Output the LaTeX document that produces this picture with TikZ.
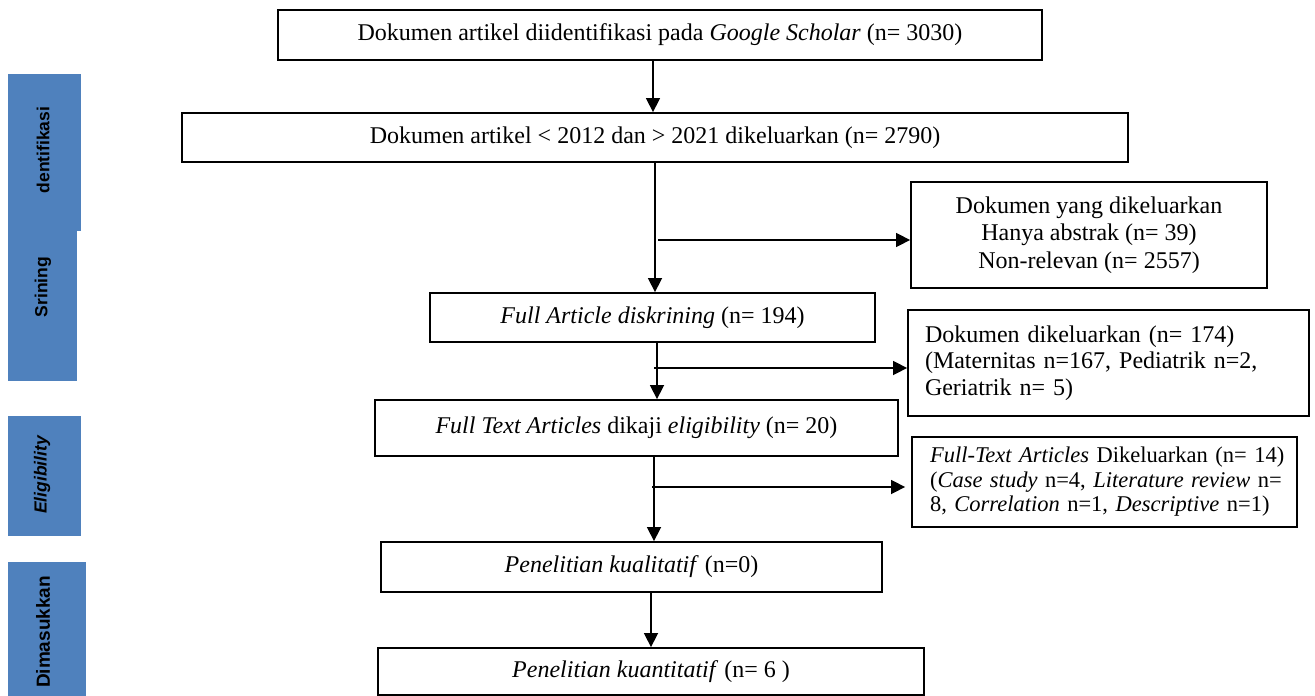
\documentclass[tikz,border=0pt]{standalone}
\usepackage{fontspec}
\setmainfont{Liberation Serif}
\newfontfamily\sidefont{Liberation Sans}
\usetikzlibrary{arrows.meta}
\definecolor{sideblue}{HTML}{4F81BD}
\tikzset{
  box/.style={draw=black, line width=1.8pt, rectangle, inner sep=0pt, align=center,
    font=\fontsize{24}{27}\selectfont},
  conn/.style={line width=1.5pt, -{Triangle[length=14pt,width=14pt]}},
  sidebar/.style={fill=sideblue, draw=none},
  sidelabel/.style={rotate=90, inner sep=0pt, text=black,
    font=\sidefont\bfseries\fontsize{17.5}{20}\selectfont}
}
\begin{document}
\begin{tikzpicture}[x=1pt,y=-1pt]
\useasboundingbox (0,0) rectangle (1315,696);

% side bars
\fill[sidebar] (8,74) rectangle (81,231);
\fill[sidebar] (8,231) rectangle (77,381);
\fill[sidebar] (8,416) rectangle (81,536);
\fill[sidebar] (8,562) rectangle (86,696);
\node[sidelabel] (l1) at (43,150) {dentifikasi};
\node[sidelabel] (l2) at (43,287) {Srining};
\node[sidelabel] (l3) at (42,475) {\itshape Eligibility};
\node[sidelabel, font=\sidefont\bfseries\fontsize{19}{22}\selectfont] (l4) at (43,632) {Dimasukkan};

% main boxes
\node[box, minimum width=764pt, minimum height=50pt] (b1) at (660,35)
  {Dokumen artikel diidentifikasi pada \textit{Google Scholar} (n= 3030)};
\node[box, minimum width=946pt, minimum height=49pt] (b2) at (655,137.5)
  {Dokumen artikel < 2012 dan > 2021 dikeluarkan (n= 2790)};
\node[box, minimum width=445pt, minimum height=49pt] (b3) at (652.5,317.5)
  {\textit{Full Article diskrining} (n= 194)};
\node[box, minimum width=523pt, minimum height=56pt] (b4) at (636.5,428)
  {\textit{Full Text Articles} dikaji \textit{eligibility} (n= 20)};
\node[box, minimum width=501pt, minimum height=50pt] (b5) at (631.5,567)
  {\textit{Penelitian kualitatif} (n=0)};
\node[box, minimum width=546pt, minimum height=47pt] (b6) at (651,671.5)
  {\raisebox{-3pt}{\textit{Penelitian kuantitatif} (n= 6 )}};

% right boxes
\node[box, minimum width=356pt, minimum height=106pt,
  font=\fontsize{24}{27.5}\selectfont] (r1) at (1089,235)
  {Dokumen yang dikeluarkan\\Hanya abstrak (n= 39)\\Non-relevan (n= 2557)};
\node[box, minimum width=401pt, minimum height=106pt, inner xsep=17pt,
  text width=367pt, align=left, font=\fontsize{24}{26.5}\selectfont] (r2) at (1108.5,363)
  {\mbox{Dokumen dikeluarkan (n= 174)}\\\mbox{(Maternitas n=167, Pediatrik n=2,}\\\mbox{Geriatrik n= 5)}};
\node[box, minimum width=385pt, minimum height=90pt, inner xsep=18pt,
  text width=349pt, align=left, font=\fontsize{22.5}{24.5}\selectfont] (r3) at (1104.5,482)
  {\mbox{\textit{Full-Text Articles} Dikeluarkan (n= 14)}\\
   \mbox{(\textit{Case study} n=4, \textit{Literature review} n=}\\
   \mbox{8, \textit{Correlation} n=1, \textit{Descriptive} n=1)}};

% junctions on the vertical flow
\coordinate (j1) at (658,240);
\coordinate (j2) at (654,368);
\coordinate (j3) at (652,487);

% vertical connectors
\draw[conn] ([xshift=-7pt]b1.south) -- ([xshift=-2pt]b2.north);
\draw[conn] (b2.south) -- (b2.south |- b3.north);
\draw[conn] ([xshift=4.5pt]b3.south) -- ([xshift=4.5pt]b3.south |- b4.north);
\draw[conn] ([xshift=17.5pt]b4.south) -- ([xshift=17.5pt]b4.south |- b5.north);
\draw[conn] ([xshift=19.5pt]b5.south) -- ([xshift=19.5pt]b5.south |- b6.north);

% side connectors
\draw[conn] (j1) -- (r1.west |- j1);
\draw[conn] (j2) -- (r2.west |- j2);
\draw[conn, shorten >=6pt] (j3) -- (r3.west |- j3);
\end{tikzpicture}
\end{document}
